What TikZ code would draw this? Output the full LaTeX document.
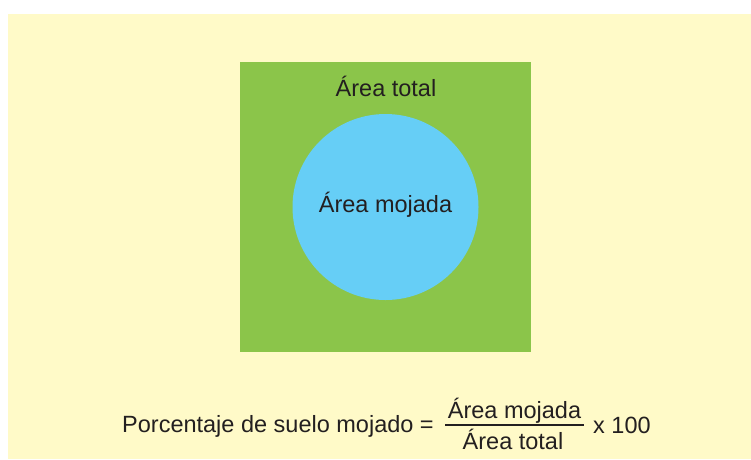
\documentclass[tikz,border=0pt]{standalone}
\usepackage{fontspec}
\setmainfont{Liberation Sans}
\usepackage{tikz}
\usetikzlibrary{calc}
\usepackage{xcolor}
\definecolor{fondo}{RGB}{255,250,200}
\definecolor{verde}{RGB}{139,197,74}
\definecolor{celeste}{RGB}{102,206,246}
\definecolor{tinta}{RGB}{35,31,32}
\newcommand{\txtsize}{\fontsize{23.5}{28}\selectfont}
\tikzset{etiq/.style={inner sep=0pt,text=tinta,font=\txtsize}}

\begin{document}
\begin{tikzpicture}[x=1pt,y=-1pt]
    \useasboundingbox (0,0) rectangle (751,459);
    \fill[fondo] (8,14) rectangle (751,459);

    \fill[verde] (240,62) rectangle (531,352);
    \fill[celeste] (385.5,207) circle (93);

    \node[etiq,anchor=base] (total) at (386,96.5) {Área total};
    \node[etiq,anchor=base] (mojada) at (385.5,212) {Área mojada};

    \node[etiq,anchor=base west] (porc) at (122,432) {Porcentaje de suelo mojado =};
    \coordinate (barL) at (445,425);
    \coordinate (barR) at (584,425);
    \draw[tinta,line width=2pt] (barL) -- (barR);
    \node[etiq,anchor=base] (num) at ($(barL)!0.5!(barR)+(0,-7)$) {Área mojada};
    \node[etiq,anchor=base] (den) at ($(barL)!0.5!(barR)+(-1.5,24)$) {Área total};
    \node[etiq,anchor=base west] (cien) at (593,433) {x 100};
\end{tikzpicture}
\end{document}
